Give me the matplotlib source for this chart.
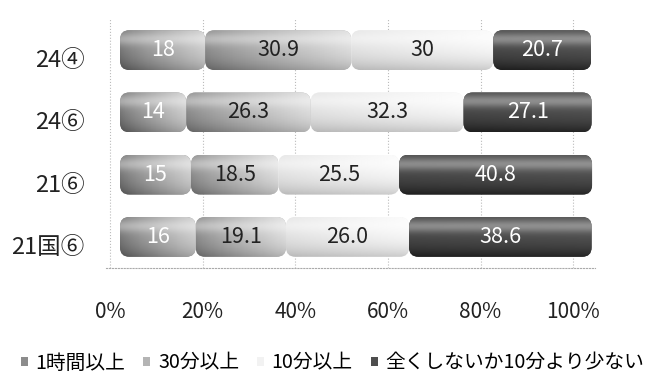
import matplotlib.pyplot as plt
import numpy as np
from matplotlib.patches import FancyBboxPatch
from matplotlib.transforms import ScaledTranslation

plt.rcParams['font.family'] = ['Noto Sans CJK JP', 'DejaVu Sans']

# survey groups, top to bottom
groups = ['24④', '24⑥', '21⑥', '21国⑥']
series = ['1時間以上', '30分以上', '10分以上', '全くしないか10分より少ない']

# shares in percent (labels are printed exactly as stored)
hour_plus = [18, 14, 15, 16]
min30_plus = [30.9, 26.3, 18.5, 19.1]
min10_plus = [30, 32.3, 25.5, 26.0]
hardly = [20.7, 27.1, 40.8, 38.6]

colors = ['#8c8c8c', '#b4b4b4', '#f2f2f2', '#4e4e4e']
# grey level at the left / right end of each segment
shade_lr = [(0.48, 0.82), (0.56, 0.88), (0.90, 0.98), (0.30, 0.33)]
text_colors = ['white', '#222222', '#222222', 'white']

# the percent scale sits a little left of the bars (depth offset of the 3d look)
def to_pct(x):
    return (x + 2.1) * 1.0215

def from_pct(p):
    return p / 1.0215 - 2.1

fig = plt.figure(figsize=(6.47, 3.8), dpi=100)
ax = fig.add_axes([105.8 / 647, 1 - 268 / 380, 489.6 / 647, 249 / 380])
ax.set_xlim(-3, 100.5)
ax.set_ylim(3.5, -0.5)

y = np.arange(len(groups))
h = 0.64
left = np.zeros(len(groups))
data = [hour_plus, min30_plus, min10_plus, hardly]

# aspect of one x unit against one y unit on screen, for round corners
aspect = (4.73 / 62.3)

u = np.linspace(0, 1, 80)[None, :]
t = np.linspace(0, 1, 40)[:, None]

for k, vals in enumerate(data):
    bars = ax.barh(y, vals, left=left, height=h, color=colors[k],
                   edgecolor='none', label=series[k], zorder=2)
    lo, hi = shade_lr[k]
    g = lo + (hi - lo) * u ** 0.8 + 0 * t
    g = g + (1 - g) * 0.35 * np.exp(-((t - 0.22) / 0.16) ** 2)
    g = g - 0.18 * t ** 3
    g = np.clip(g, 0, 1)
    for i, b in enumerate(bars):
        x0 = left[i]
        x1 = left[i] + vals[i]
        rounded = FancyBboxPatch((x0, i - h / 2), vals[i], h,
                                 boxstyle='round,pad=0,rounding_size=2.0',
                                 mutation_aspect=aspect,
                                 transform=ax.transData)
        b.set_clip_path(rounded)
        im = ax.imshow(g, cmap='gray', vmin=0, vmax=1,
                       extent=(x0, x1, i + h / 2, i - h / 2),
                       origin='upper', aspect='auto', zorder=3,
                       interpolation='bilinear')
        im.set_clip_path(rounded)
        ax.text((x0 + x1) / 2, i, str(vals[i]), ha='center', va='center',
                fontsize=15.5, color=text_colors[k], zorder=4)
    left = left + np.array(vals, dtype=float)

ax.set_xlim(-3, 100.5)
ax.set_ylim(3.5, -0.5)
ax.set_yticks(y)
ax.set_yticklabels(groups, fontsize=17, color='#222222')
ax.tick_params(axis='y', length=0, pad=15)
shift = ScaledTranslation(0, -0.08, fig.dpi_scale_trans)
for lbl in ax.get_yticklabels():
    lbl.set_transform(lbl.get_transform() + shift)
ax.set_xticks(from_pct(np.arange(0, 101, 20)))
ax.tick_params(axis='x', length=0, labelbottom=False)
ax.grid(axis='x', linestyle=':', color='#bbbbbb', linewidth=0.8, zorder=0)
ax.set_axisbelow(True)
for s in ['top', 'right', 'left']:
    ax.spines[s].set_visible(False)
ax.spines['bottom'].set_linestyle(':')
ax.spines['bottom'].set_color('#aaaaaa')

sec = ax.secondary_xaxis('bottom', functions=(to_pct, from_pct))
sec.set_xticks(np.arange(0, 101, 20))
sec.set_xticklabels([f'{p}%' for p in range(0, 101, 20)], fontsize=15,
                    color='#222222')
sec.tick_params(length=0, pad=24)
sec.spines['bottom'].set_visible(False)

handles, labels = ax.get_legend_handles_labels()
fig.legend(handles, labels, ncol=4, loc='center',
           bbox_to_anchor=(0.514, 1 - 363 / 380), frameon=False, fontsize=14.2,
           handlelength=0.35, handleheight=0.35, handletextpad=0.4,
           columnspacing=0.9)

fig.savefig('out.png', dpi=100)
